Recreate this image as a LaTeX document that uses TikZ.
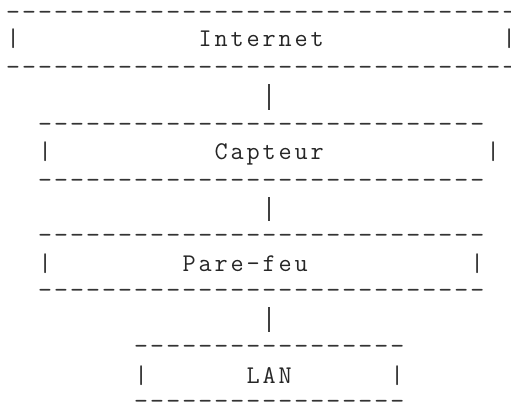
\documentclass[tikz,border=0pt]{standalone}
\newcommand\asciifont{\ttfamily\fontsize{25.5pt}{28pt}\selectfont}
\newcommand\dashfont{\ttfamily\fontsize{27pt}{28pt}\selectfont}
\newcommand\cell[1]{\makebox[16pt][c]{#1}}
\ExplSyntaxOn
\NewDocumentCommand\spread{m}{\tl_map_function:nN {#1} \cell}
\ExplSyntaxOff

\begin{document}
\begin{tikzpicture}[x=1pt, y=-1pt]
    % Define styles
    \tikzstyle{glyph} = [inner sep=0pt, anchor=base west, text=black!85, font=\asciifont]
    \tikzstyle{dashglyph} = [glyph, text=black!80, font=\dashfont]
    \tikzstyle{link} = [draw=black!75, line width=1.8pt, shorten <=8.5pt, shorten >=22.5pt]

    \useasboundingbox (0,0) rectangle (511,405);

    % Internet
    \foreach \c in {0,...,31} \node[dashglyph] (inet-t\c) at (5+16*\c, 20.5) {\cell{-}};
    \node[glyph] (inet-l) at (5+16*0, 46.7) {\cell{|}};
    \node[glyph] (inet) at (5+16*12, 46.7) {\spread{Internet}};
    \node[glyph] (inet-r) at (5+16*31, 46.7) {\cell{|}};
    \foreach \c in {0,...,31} \node[dashglyph] (inet-b\c) at (5+16*\c, 75.5) {\cell{-}};

    % Capteur
    \foreach \c in {2,...,29} \node[dashglyph] (capt-t\c) at (5+16*\c, 132.8) {\cell{-}};
    \node[glyph] (capt-l) at (5+16*2, 159.3) {\cell{|}};
    \node[glyph] (capt) at (5+16*13, 159.3) {\spread{Capteur}};
    \node[glyph] (capt-r) at (5+16*30, 159.3) {\cell{|}};
    \foreach \c in {2,...,29} \node[dashglyph] (capt-b\c) at (5+16*\c, 188.8) {\cell{-}};

    % Pare-feu
    \foreach \c in {2,...,29} \node[dashglyph] (fw-t\c) at (5+16*\c, 243.8) {\cell{-}};
    \node[glyph] (fw-l) at (5+16*2, 271) {\cell{|}};
    \node[glyph] (fw) at (5+16*11, 271) {\spread{Pare-feu}};
    \node[glyph] (fw-r) at (5+16*29, 271) {\cell{|}};
    \foreach \c in {2,...,29} \node[dashglyph] (fw-b\c) at (5+16*\c, 298.8) {\cell{-}};

    % LAN
    \foreach \c in {8,...,24} \node[dashglyph] (lan-t\c) at (5+16*\c, 354.5) {\cell{-}};
    \node[glyph] (lan-l) at (5+16*8, 383.3) {\cell{|}};
    \node[glyph] (lan) at (5+16*15, 383.3) {\spread{LAN}};
    \node[glyph] (lan-r) at (5+16*24, 383.3) {\cell{|}};
    \foreach \c in {8,...,24} \node[dashglyph] (lan-b\c) at (5+16*\c, 409.5) {\cell{-}};

    % Links
    \draw[link] (inet-b16.base) -- (capt-t16.base);
    \draw[link] (capt-b16.base) -- (fw-t16.base);
    \draw[link] (fw-b16.base) -- (lan-t16.base);
\end{tikzpicture}
\end{document}
